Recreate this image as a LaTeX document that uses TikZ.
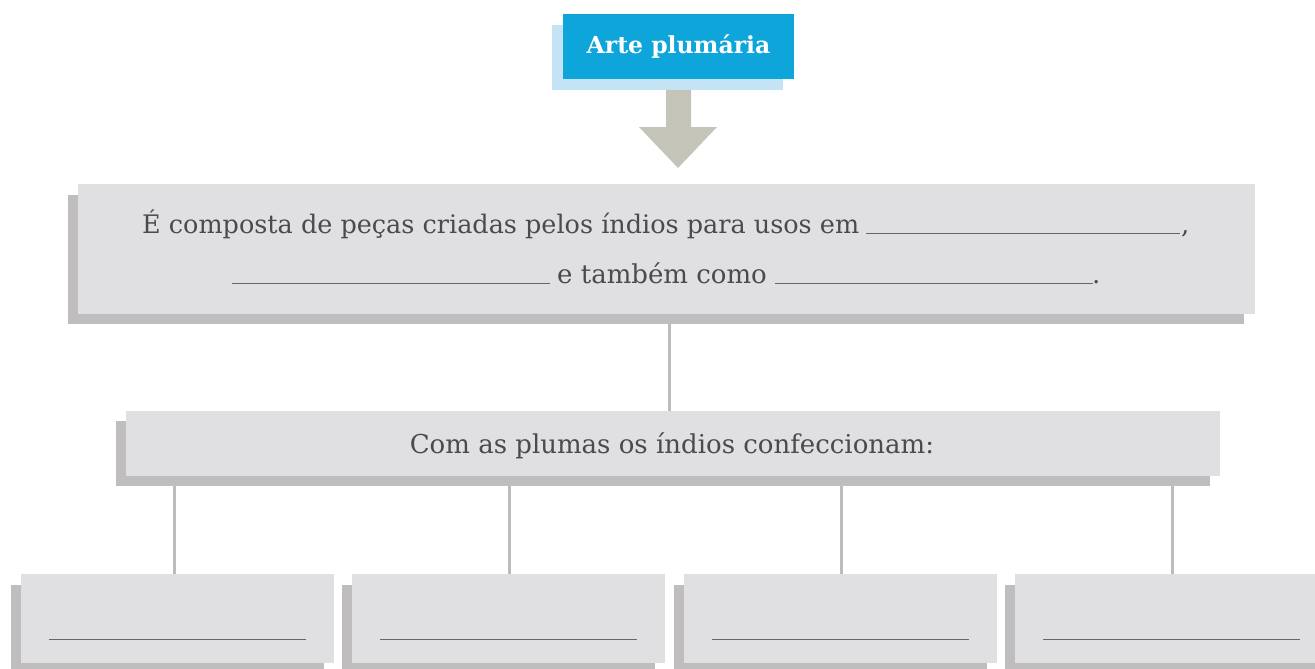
\documentclass[tikz,border=0pt]{standalone}
\usepackage{fontspec}
\setmainfont{DejaVu Serif}
\definecolor{topblue}{HTML}{0EA5DA}
\definecolor{lightblue}{HTML}{C4E4F5}
\definecolor{boxgray}{HTML}{E0E0E2}
\definecolor{shadowgray}{HTML}{BFBDBE}
\definecolor{arrowgray}{HTML}{C5C4B8}
\definecolor{conngray}{HTML}{BDBBBC}
\definecolor{txtgray}{HTML}{4B4B4D}
\definecolor{blankgray}{HTML}{666666}
\begin{document}
\begin{tikzpicture}[x=1pt,y=-1pt,
  box/.style={fill=boxgray, inner sep=0pt, outer sep=0pt},
  shadowbox/.style={fill=shadowgray, inner sep=0pt, outer sep=0pt},
  conn/.style={draw=conngray, line width=3pt},
  blank/.style={draw=blankgray, line width=1pt},
  txt/.style={text=txtgray, font=\fontsize{26}{30}\selectfont, inner sep=0pt, anchor=base west}]
\useasboundingbox (0,0) rectangle (1315,669);
% top box
\node[fill=lightblue, inner sep=0pt, minimum width=231pt, minimum height=65pt] (topsh) at (667.5,57.5) {};
\node[fill=topblue, inner sep=0pt, minimum width=231pt, minimum height=65pt, text=white, font=\bfseries\fontsize{23.5}{27}\selectfont] (top) at (678.5,46.5) {Arte plumária};
% arrow
\coordinate (atip) at (678,168);
\fill[arrowgray] (666,90) -- (691,90) -- (691,127) -- (717,127) -- (atip) -- (639,127) -- (666,127) -- cycle;
% main box
\node[shadowbox, minimum width=1176pt, minimum height=129pt] (mainsh) at (656,259.5) {};
\node[box, minimum width=1177pt, minimum height=130pt] (main) at (666.5,249) {};
\node[txt, font=\fontsize{25.5}{30}\selectfont] (l1) at (142,233) {É composta de peças criadas pelos índios para usos em};
\coordinate (b1s) at (866,233); \coordinate (b1e) at (1180,233);
\draw[blank] (b1s) -- (b1e);
\node[txt] (comma) at (1181,233) {,};
\coordinate (b2s) at (232,283); \coordinate (b2e) at (550,283);
\draw[blank] (b2s) -- (b2e);
\node[txt] (l2) at (557,283) {e também como};
\coordinate (b3s) at (775,283); \coordinate (b3e) at (1093,283);
\draw[blank] (b3s) -- (b3e);
\node[txt] (dot) at (1092,283) {.};
% second box
\node[shadowbox, minimum width=1094pt, minimum height=65pt] (secsh) at (663,453.5) {};
\node[box, minimum width=1094pt, minimum height=65pt] (sec) at (673,443.5) {};
\node[txt, anchor=base] (l3) at (672,453) {Com as plumas os índios confeccionam:};
\coordinate (c0) at (669,0);
\draw[conn] (c0 |- mainsh.south) -- (c0 |- sec.north);
% bottom boxes
\foreach \i/\l/\cx in {1/21/174, 2/352/509, 3/684/841, 4/1015/1172}{
  \node[shadowbox, minimum width=313pt, minimum height=89pt, anchor=north west] (bsh\i) at (\l-10,585) {};
  \node[box, minimum width=313pt, minimum height=89pt, anchor=north west] (b\i) at (\l,574) {};
  \coordinate (c\i) at (\cx,0);
  \draw[conn] (c\i |- secsh.south) -- (c\i |- b\i.north);
  \draw[blank] ([xshift=28pt]b\i.north west |- 0,639) -- ([xshift=285pt]b\i.north west |- 0,639);
}
\end{tikzpicture}
\end{document}
